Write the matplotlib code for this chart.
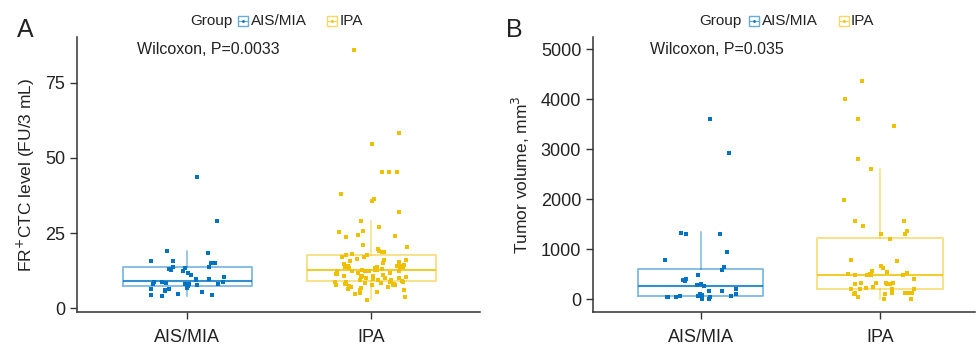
import numpy as np
import matplotlib
matplotlib.use("Agg")
import matplotlib.pyplot as plt
from matplotlib.lines import Line2D

plt.rcParams['font.family'] = ['Liberation Sans', 'DejaVu Sans']

# =========================
# DATA
# =========================
groups = ["AIS/MIA", "IPA"]
colors = ["#0073C2", "#EFC000"]

ctc_ais = [43.8, 29.1, 18.2, 19.1, 15.6, 14.9, 15.8, 14.9, 13.7, 13.4, 13.7, 12.8, 13.0,
           12.3, 11.6, 11.1, 10.3, 9.6, 9.8, 8.8, 8.2, 8.7, 9.2, 8.8, 7.9, 8.0, 8.1, 8.1,
           7.6, 7.3, 6.7, 6.3, 6.2, 5.9, 5.3, 5.6, 4.7, 4.3, 4.2, 4.0]
ctc_ipa = [86.1, 58.3, 54.6, 45.3, 45.3, 45.3, 37.9, 36.4, 35.8, 32.0, 29.1, 27.0, 25.4,
           25.8, 24.4, 23.8, 24.0, 20.9, 20.2, 19.6, 19.1, 18.7, 18.6, 17.8, 17.7, 17.9,
           16.9, 17.1, 16.1, 15.8, 16.1, 16.2, 15.3, 15.1, 14.6, 14.1, 14.2, 14.0, 13.7,
           13.6, 13.3, 13.6, 13.2, 14.0, 13.8, 13.1, 12.7, 12.6, 12.2, 12.3, 12.4, 12.2,
           12.4, 12.7, 11.6, 11.7, 11.2, 10.8, 11.2, 10.7, 10.3, 11.1, 10.1, 9.7, 10.1,
           9.4, 9.3, 10.0, 10.4, 10.8, 9.4, 9.0, 8.6, 8.7, 8.6, 8.7, 7.9, 8.0, 8.2, 7.7,
           7.8, 8.3, 7.7, 7.6, 7.1, 7.1, 7.4, 6.8, 6.4, 6.1, 6.1, 5.4, 4.9, 4.7, 3.8, 2.7]

vol_ais = [3606, 2926, 1300, 1333, 1300, 946, 786, 640, 593, 486, 400, 366, 380, 293, 300,
           266, 213, 166, 166, 100, 73, 53, 6, 40, 53, 13, 73, 73, 46, 93, 100]
vol_ipa = [4360, 4006, 3606, 3466, 2800, 2613, 1993, 1560, 1566, 1460, 1366, 1300, 1300,
           1206, 766, 786, 633, 673, 526, 506, 553, 513, 573, 486, 480, 493, 480, 406,
           320, 306, 313, 333, 306, 326, 320, 240, 213, 200, 206, 206, 220, 120, 120,
           106, 133, 120, 120, 100, 120, 40, 6, 13]

# box stats: whisker low, Q1, median, Q3, whisker high
ctc_ais_box = [4.1, 7.3, 9.1, 13.6, 19.0]
ctc_ipa_box = [2.9, 9.0, 12.7, 17.8, 29.1]
vol_ais_box = [0, 73, 267, 613, 1340]
vol_ipa_box = [13, 200, 480, 1227, 2613]

ctc_ticks = [0, 25, 50, 75]
vol_ticks = [0, 1000, 2000, 3000, 4000, 5000]

TXT = "#222222"
AX = "#333333"


def draw_panel(ax, data, boxes, ylabel, ptext, ptext_y, ylim, yticks, xlim):
    rng = np.random.default_rng(7)
    for i, (vals, bs, col) in enumerate(zip(data, boxes, colors)):
        pos = i + 1
        stats = [dict(whislo=bs[0], q1=bs[1], med=bs[2], q3=bs[3], whishi=bs[4], fliers=[])]
        ax.bxp(stats, positions=[pos], widths=0.7, showcaps=False, showfliers=False,
               boxprops=dict(color=col, alpha=0.5, lw=1.3),
               whiskerprops=dict(color=col, alpha=0.5, lw=1.1),
               medianprops=dict(color=col, alpha=0.8, lw=1.5))
        jit = rng.uniform(-0.2, 0.2, len(vals))
        ax.scatter(pos + jit, vals, s=5, marker="s", color=col, zorder=3, linewidths=0)
    ax.set_xlim(*xlim)
    ax.set_ylim(*ylim)
    ax.set_yticks(yticks)
    ax.set_xticks([1, 2])
    ax.set_xticklabels(groups)
    ax.set_ylabel(ylabel, fontsize=12.5, color=TXT, labelpad=6)
    for s in ["top", "right"]:
        ax.spines[s].set_visible(False)
    for s in ["left", "bottom"]:
        ax.spines[s].set_color(AX)
        ax.spines[s].set_linewidth(1.1)
    ax.tick_params(colors=AX, labelcolor=TXT, labelsize=13, length=5, width=1.0)
    ax.tick_params(axis="x", pad=7)
    ax.text(0.15, ptext_y, ptext, transform=ax.get_yaxis_transform(),
            fontsize=11.5, color=TXT, va="center", ha="left")


fig = plt.figure(figsize=(9.76, 3.46), dpi=100)
W, H = 976, 346

axA = fig.add_axes([77 / W, 1 - 312 / H, 403 / W, 275 / H])
axB = fig.add_axes([593 / W, 1 - 312 / H, 382 / W, 275 / H])

draw_panel(axA, [ctc_ais, ctc_ipa], [ctc_ais_box, ctc_ipa_box],
           r"FR$^{+}$CTC level (FU/3 mL)", "Wilcoxon, P=0.0033", 86.3,
           (-1.3, 90.3), ctc_ticks, (0.4, 2.59))
draw_panel(axB, [vol_ais, vol_ipa], [vol_ais_box, vol_ipa_box],
           r"Tumor volume, mm$^{3}$", "Wilcoxon, P=0.035", 5000,
           (-253, 5246), vol_ticks, (0.4, 2.53))

# panel letters
fig.text(17 / W, 1 - 30 / H, "A", fontsize=18, color=TXT, va="center", ha="left")
fig.text(506 / W, 1 - 30 / H, "B", fontsize=18, color=TXT, va="center", ha="left")


# legends on top
def legend_row(x_group, x_icon1, x_lab1, x_icon2, x_lab2, y=21):
    yf = 1 - y / H
    fig.text(x_group / W, yf, "Group", fontsize=11, color=TXT, va="center", ha="left")
    for xi, xl, lab, col in [(x_icon1, x_lab1, "AIS/MIA", colors[0]),
                             (x_icon2, x_lab2, "IPA", colors[1])]:
        fig.add_artist(Line2D([xi / W], [yf], marker="s", markersize=6.5, mfc="none",
                              mec=col, alpha=0.6, mew=1.0, transform=fig.transFigure))
        fig.add_artist(Line2D([(xi - 4) / W, (xi + 4) / W], [yf, yf], color=col,
                              alpha=0.6, lw=0.8, transform=fig.transFigure))
        fig.add_artist(Line2D([xi / W], [yf], marker="o", markersize=2, color=col,
                              mew=0, transform=fig.transFigure))
        fig.text(xl / W, yf, lab, fontsize=11, color=TXT, va="center", ha="left")


legend_row(190, 243, 251, 332, 340)
legend_row(699, 754, 762, 844, 851)

fig.savefig("out.png", dpi=100)
